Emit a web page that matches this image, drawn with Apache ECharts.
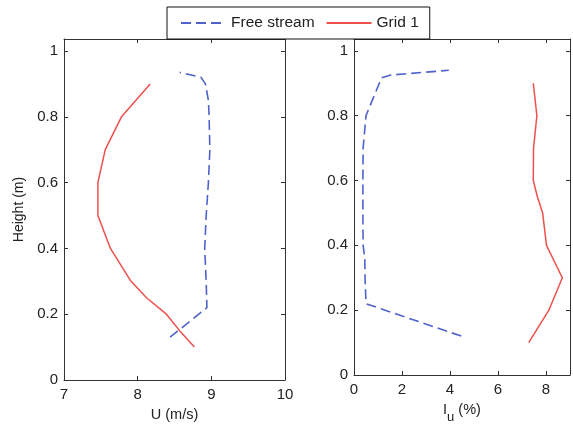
<!DOCTYPE html>
<html>
<head>
<meta charset="utf-8">
<script src="https://cdn.jsdelivr.net/npm/echarts@6/dist/echarts.min.js"></script>
<style>
html,body{margin:0;padding:0;background:#fff;}
#chart{width:573px;height:429px;}
</style>
</head>
<body>
<div id="chart"></div>
<script>
// Left panel: mean velocity U (m/s) vs height (m)
var leftFreeH = [0.13, 0.22, 0.3, 0.4, 0.5, 0.6, 0.7, 0.8, 0.85, 0.9, 0.92, 0.935];
var leftFreeU = [8.44, 8.94, 8.93, 8.91, 8.93, 8.96, 8.98, 8.97, 8.96, 8.92, 8.86, 8.57];
var leftGridH = [0.1, 0.15, 0.2, 0.25, 0.3, 0.4, 0.5, 0.6, 0.7, 0.8, 0.9];
var leftGridU = [8.77, 8.57, 8.39, 8.12, 7.91, 7.63, 7.46, 7.46, 7.56, 7.78, 8.17];
// Right panel: turbulence intensity Iu (%) vs height (m)
var rightFreeH = [0.12, 0.22, 0.3, 0.36, 0.4, 0.5, 0.6, 0.7, 0.8, 0.917, 0.925, 0.94];
var rightFreeI = [4.47, 0.5, 0.46, 0.45, 0.38, 0.37, 0.37, 0.38, 0.5, 1.15, 1.5, 3.95];
var rightGridH = [0.1, 0.2, 0.3, 0.4, 0.5, 0.55, 0.6, 0.7, 0.8, 0.9];
var rightGridI = [7.28, 8.12, 8.68, 8.02, 7.86, 7.64, 7.47, 7.48, 7.62, 7.47];
var seriesNames = ['Free stream', 'Grid 1'];
var leftXTicks = [7, 8, 9, 10];
var rightXTicks = [0, 2, 4, 6, 8];
var yTicks = [0, 0.2, 0.4, 0.6, 0.8, 1];

function pairs(xs, ys) { return xs.map(function (x, i) { return [x, ys[i]]; }); }
function tickFmt(list) {
  return function (v) {
    for (var i = 0; i < list.length; i++) if (Math.abs(list[i] - v) < 1e-6) return String(list[i]);
    return '';
  };
}

var FONT = 'Liberation Sans, Arial, sans-serif';
var AX = '#333';
var BLUE = '#4f62cc';
var RED = '#f0504c';

function baseAxis(extra) {
  var a = {
    type: 'value',
    axisLine: { show: true, onZero: false, lineStyle: { color: AX, width: 1 } },
    axisTick: { show: true, inside: true, length: 4, lineStyle: { color: AX } },
    splitLine: { show: false },
    axisLabel: { color: '#222', fontSize: 15, fontFamily: FONT, margin: 6 }
  };
  for (var k in extra) a[k] = extra[k];
  return a;
}
function mirror(extra) {
  var a = baseAxis(extra);
  a.axisLabel = { show: false };
  return a;
}

var YMAX = 1.0365;

var option = {
  animation: false,
  backgroundColor: '#fff',
  legend: {
    data: seriesNames,
    left: 167, top: 7,
    backgroundColor: '#fff',
    borderColor: '#111', borderWidth: 1,
    padding: [8, 11, 8, 13],
    itemGap: 11,
    itemWidth: 45, itemHeight: 14,
    itemStyle: { opacity: 0 },
    textStyle: { fontSize: 15.5, fontFamily: FONT, color: '#222' }
  },
  grid: [
    { left: 64, top: 39, width: 221, height: 341 },
    { left: 354, top: 39, width: 220, height: 341 }
  ],
  xAxis: [
    baseAxis({ gridIndex: 0, position: 'bottom', min: 7, max: 10, interval: 1,
      name: 'U (m/s)', nameLocation: 'middle', nameGap: 27,
      nameTextStyle: { fontSize: 14.5, fontFamily: FONT, color: '#222' },
      axisLabel: { color: '#222', fontSize: 15, fontFamily: FONT, margin: 7, formatter: tickFmt(leftXTicks) } }),
    mirror({ gridIndex: 0, position: 'top', min: 7, max: 10, interval: 1 }),
    baseAxis({ gridIndex: 1, position: 'bottom', min: 0, max: 9, interval: 2,
      name: '{a|I}{b|u}{a| (%)}', nameLocation: 'middle', nameGap: 27,
      nameTextStyle: { fontSize: 14.5, fontFamily: FONT, color: '#222',
        rich: {
          a: { fontSize: 14.5, fontFamily: FONT, color: '#222', lineHeight: 22, verticalAlign: 'top' },
          b: { fontSize: 13, fontFamily: FONT, color: '#222', lineHeight: 22, verticalAlign: 'bottom', padding: [6, 0, 0, 0] }
        } },
      axisLabel: { color: '#222', fontSize: 15, fontFamily: FONT, margin: 7, formatter: tickFmt(rightXTicks) } }),
    mirror({ gridIndex: 1, position: 'top', min: 0, max: 9, interval: 2 })
  ],
  yAxis: [
    baseAxis({ gridIndex: 0, position: 'left', min: 0, max: YMAX, interval: 0.2,
      name: 'Height (m)', nameLocation: 'middle', nameGap: 38,
      nameTextStyle: { fontSize: 14, fontFamily: FONT, color: '#222' },
      axisLabel: { color: '#222', fontSize: 15, fontFamily: FONT, margin: 6, formatter: tickFmt(yTicks) } }),
    mirror({ gridIndex: 0, position: 'right', min: 0, max: YMAX, interval: 0.2 }),
    baseAxis({ gridIndex: 1, position: 'left', min: 0, max: YMAX, interval: 0.2,
      axisLabel: { color: '#222', fontSize: 15, fontFamily: FONT, margin: 6, formatter: tickFmt(yTicks) } }),
    mirror({ gridIndex: 1, position: 'right', min: 0, max: YMAX, interval: 0.2 })
  ],
  series: [
    { name: seriesNames[0], type: 'line', xAxisIndex: 0, yAxisIndex: 0, symbol: 'none',
      lineStyle: { color: BLUE, width: 1.6, type: [10, 5] }, itemStyle: { color: BLUE },
      data: pairs(leftFreeU, leftFreeH) },
    { name: seriesNames[1], type: 'line', xAxisIndex: 0, yAxisIndex: 0, symbol: 'none',
      lineStyle: { color: RED, width: 1.5 }, itemStyle: { color: RED },
      data: pairs(leftGridU, leftGridH) },
    { name: seriesNames[0], type: 'line', xAxisIndex: 2, yAxisIndex: 2, symbol: 'none',
      lineStyle: { color: BLUE, width: 1.6, type: [10, 5] }, itemStyle: { color: BLUE },
      data: pairs(rightFreeI, rightFreeH) },
    { name: seriesNames[1], type: 'line', xAxisIndex: 2, yAxisIndex: 2, symbol: 'none',
      lineStyle: { color: RED, width: 1.5 }, itemStyle: { color: RED },
      data: pairs(rightGridI, rightGridH) }
  ]
};

var chart = echarts.init(document.getElementById('chart'), null, { renderer: 'canvas' });
chart.setOption(option);
</script>
</body>
</html>
